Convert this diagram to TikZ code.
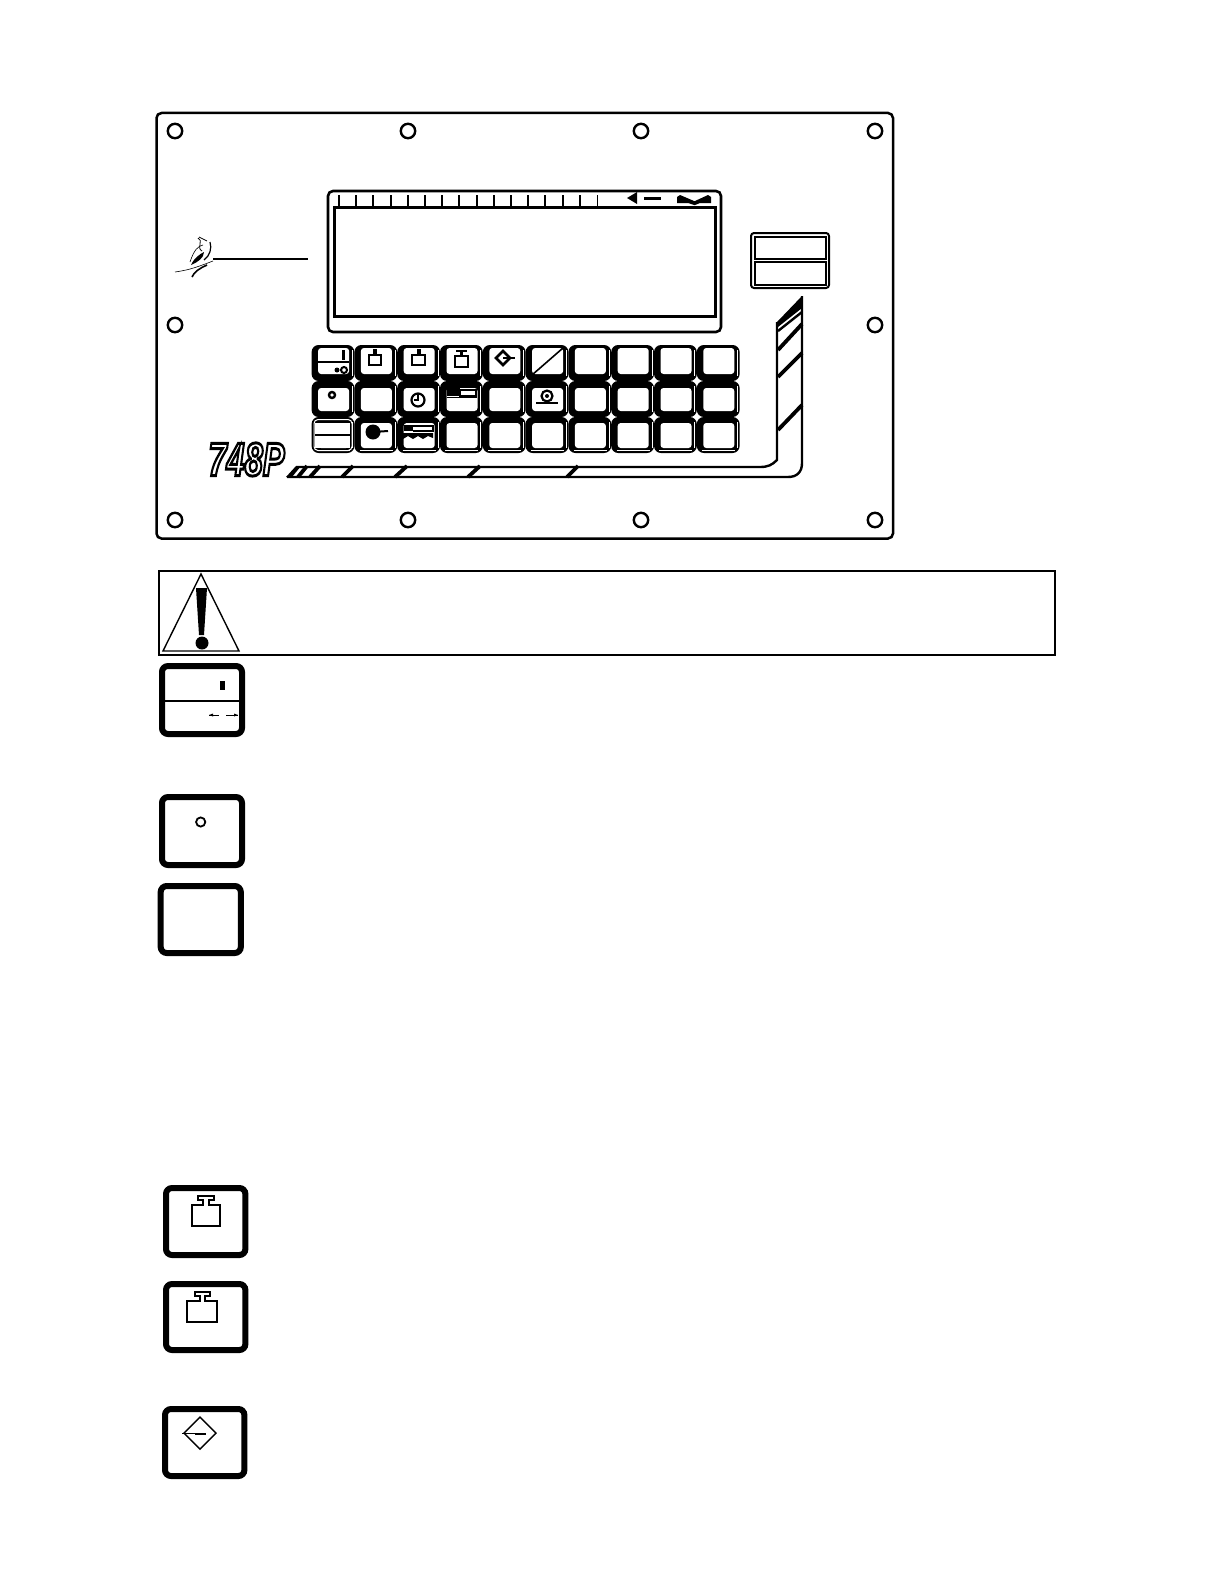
\documentclass[tikz,border=0pt]{standalone}
\usepackage{fontspec}
\newfontfamily\logofont{Liberation Sans}

\begin{document}
\begin{tikzpicture}[x=0.5pt, y=-0.5pt, line width=1pt,
    screw/.style={circle,draw,inner sep=0pt,minimum size=7.2pt,line width=1.2pt},
    iconkey/.style={draw,line width=3pt,rounded corners=3pt},
    stripe/.style={line width=1.9pt},
    icon/.style={line width=1.3pt}]
    \useasboundingbox (0,0) rectangle (1224,1584);

    \draw[line width=1.25pt,rounded corners=2.5pt] (156.5,113) rectangle (893,538.5);

    \node[screw] (A) at (175,131) {};
    \node[screw] (B) at (408,131) {};
    \node[screw] (C) at (641,131) {};
    \node[screw] (D) at (875,131) {};
    \node[screw] (E) at (175,325) {};
    \node[screw] (F) at (875,325) {};
    \node[screw] (G) at (175,520) {};
    \node[screw] (H) at (408,520) {};
    \node[screw] (I) at (641,520) {};
    \node[screw] (J) at (875,520) {};

    \draw[line width=1.3pt,rounded corners=2.5pt] (328,191) rectangle (721,332);
    \draw[line width=1.5pt] (334,207) rectangle (715,316);
    \foreach \k in {0,...,14} {
        \draw ({339+17.2*\k},195) -- ({339+17.2*\k},207);
    }
    \draw[line width=0.5pt] (597,195) -- (597,207);
    \fill (627,198) -- (637,192) -- (637,204) -- cycle;
    \draw[line width=1.5pt] (644,198) -- (661,198);
    \fill (677,197) -- (680,195) -- (694,201) -- (695,201) -- (708,195) -- (711,197)
        -- (711,203) -- (700,203) -- (695,205) -- (694,205) -- (688,203) -- (677,203) -- cycle;

    \draw[rounded corners=1.5pt] (751,233) rectangle (829,288);
    \draw (755,237) rectangle (826,259);
    \draw (755,262) rectangle (826,285);

    \draw[line width=0.7pt] (213,259) -- (308,259);
    \draw[line width=0.4pt] (198,238) .. controls (204,240) and (196,248) .. (202,251);
    \draw[line width=0.4pt] (199,237) -- (207,241);
    \draw[line width=0.6pt] (210,242) .. controls (212,248) and (210,256) .. (204,260);
    \fill (191,265) .. controls (194,258) and (200,254) .. (204,252)
        .. controls (204,258) and (198,262) .. (191,265) -- cycle;
    \draw[line width=0.3pt] (175,272) .. controls (190,270) and (200,266) .. (213,261);
    \draw[line width=0.8pt] (192,277) .. controls (194,272) and (200,268) .. (207,265);
    \draw[line width=0.3pt] (190,262) .. controls (194,250) and (198,246) .. (203,245);

    \node (logo) at (246.5,459.5) {\scalebox{0.68}[0.98]{\logofont\bfseries\itshape\fontsize{24}{24}\selectfont\special{pdf:code 1 Tr 1.5 w}748P\special{pdf:code 0 Tr}}};

    \foreach \X in {0,...,9} {
        \foreach \Y/\T/\B in {345/3/7,381/7/6,417/6/5} {
            \fill[rounded corners=3.5pt] ({311.6+42.8*\X},\Y) rectangle ({354.4+42.8*\X},\Y+36);
            \draw[white,line width=0.4pt] ({352.3+42.8*\X},\Y+5) -- ({352.3+42.8*\X},\Y+31);
            \fill[white,rounded corners=1.5pt] ({318.1+42.8*\X},\Y+\T) rectangle ({349.1+42.8*\X},\Y+36-\B);
        }
        \draw[white,line width=0.4pt] ({317+42.8*\X},450.3) -- ({350+42.8*\X},450.3);
    }
    \draw[white,line width=0.5pt,rounded corners=2pt] (314,419.5) rectangle (352,450.5);
    \fill[white] (315,423) rectangle (350,448);

    \draw[line width=1.2pt] (315,362) -- (349,362);
    \fill (342,350) rectangle (345,360);
    \fill (337,370) circle (2.5);
    \draw[line width=1pt] (344,370) circle (3);

    \draw[icon] (369,355) rectangle (381,365);
    \draw[line width=2pt] (375,349) -- (375,355);
    \draw[icon] (412,355) rectangle (425,365);
    \draw[line width=2pt] (418.5,349) -- (418.5,355);
    \draw[icon] (455,356) rectangle (468,367);
    \draw[line width=1.6pt] (461.5,352) -- (461.5,356);
    \draw[line width=1pt] (456,351) -- (467,351);

    \draw[icon] (503,351) -- (510,358) -- (503,365) -- (496,358) -- cycle;
    \draw[line width=1pt] (503,358) -- (515,358);
    \draw[line width=0.8pt] (532,375) -- (563,348);

    \draw[line width=1.2pt] (332,395) circle (3);
    \draw[line width=1.1pt] (418,400) circle (6.5);
    \draw[line width=0.9pt] (418,394) -- (418,400) -- (414,400);
    \fill (447,388) rectangle (460,396);
    \draw[line width=0.8pt] (460,390) rectangle (476,396);
    \draw[line width=0.7pt] (447,397.5) -- (477,397.5);
    \draw[line width=1.1pt] (547,396) circle (5.5);
    \fill (547,396) circle (2);
    \draw[line width=1pt] (536,402.5) -- (558,402.5);

    \draw[line width=1.2pt] (315,435) -- (350,435);
    \fill (373,432) circle (7.5);
    \draw[line width=1pt] (373,432) -- (388,431);
    \fill (404,425) rectangle (413,431);
    \draw[line width=0.7pt] (413,426) -- (433,426) -- (433,431) -- (413,431);
    \fill (403,433) -- (433,433) -- (433,438) -- (428,436) -- (423,439) -- (418,436)
        -- (413,439) -- (408,436) -- (403,439) -- cycle;

    \draw[line width=1.2pt] (802,296) -- (802,463) .. controls (802,472) and (797,477) .. (788,477) -- (287,477);
    \draw[line width=1.2pt] (777,322) -- (777,460) .. controls (772,465) and (768,467) .. (760,467) -- (296,467);
    \fill (777,322) -- (802,296) -- (802,308) -- (778,327) -- cycle;
    \draw[line width=1.2pt] (778,331) -- (802,312);
    \draw[stripe] (778,350) -- (802,324);
    \draw[stripe] (778,377) -- (802,353);
    \draw[stripe] (778,430) -- (802,405);
    \fill (286,477) -- (296,466) -- (301,466) -- (292,477) -- cycle;
    \draw[stripe] (298,477) -- (307,466);
    \draw[stripe] (310,477) -- (320,466);
    \draw[stripe] (342,477) -- (353,466);
    \draw[stripe] (395,477) -- (407,466);
    \draw[stripe] (468,477) -- (480,466);
    \draw[stripe] (567,477) -- (578,466);

    \draw (159,571) rectangle (1055,655);
    \draw[line width=0.7pt] (201,574) -- (239,651) -- (163,651) -- cycle;
    \fill (196,588) -- (207,588) -- (204,635) -- (199,635) -- cycle;
    \fill (202,643) circle (6.5);

    \draw[iconkey] (162,666) rectangle (242,734);
    \draw[line width=1.3pt] (162,701) -- (242,701);
    \fill (220,681) rectangle (225,690);
    \draw[line width=0.5pt] (209,715) -- (219,715);
    \draw[line width=0.5pt] (226,715) -- (238,715);
    \fill (213,713.5) -- (209,715) -- (213,716.5) -- cycle;
    \fill (234,713.5) -- (238,715) -- (234,716.5) -- cycle;

    \draw[iconkey] (162,797) rectangle (242,865);
    \draw[line width=0.9pt] (200.7,822) circle (4.6);

    \draw[iconkey] (160.7,886) rectangle (240.8,953);

    \draw[iconkey] (166,1188) rectangle (245.4,1255);
    \draw[line width=0.8pt] (192,1226) -- (192,1205) -- (203,1205) -- (203,1200) -- (198,1200)
        -- (198,1196) -- (214,1196) -- (214,1200) -- (209,1200) -- (209,1205) -- (220,1205)
        -- (220,1226) -- cycle;

    \draw[iconkey] (166,1284) rectangle (245.4,1350);
    \draw[line width=0.8pt] (187,1322) -- (187,1301) -- (200,1301) -- (200,1296) -- (195,1296)
        -- (195,1292) -- (210,1292) -- (210,1296) -- (205,1296) -- (205,1301) -- (217,1301)
        -- (217,1322) -- cycle;

    \draw[iconkey] (165,1409) rectangle (244.4,1476);
    \draw[line width=0.7pt] (200,1417) -- (216,1433) -- (200,1449) -- (184,1433) -- cycle;
    \draw[line width=0.5pt] (182,1433.5) -- (206,1433.5);
    \fill (195,1432.5) rectangle (206,1434.5);
\end{tikzpicture}
\end{document}
